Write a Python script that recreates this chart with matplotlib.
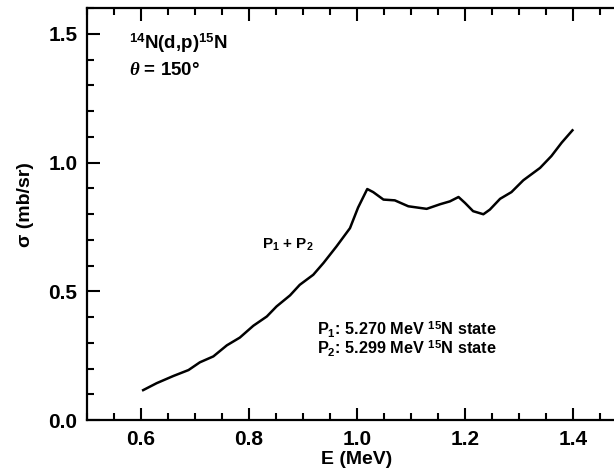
import matplotlib
matplotlib.use("Agg")
import matplotlib.pyplot as plt
from matplotlib.ticker import MultipleLocator

plt.rcParams['font.family'] = ['Liberation Sans', 'DejaVu Sans']
plt.rcParams['font.weight'] = 'bold'
plt.rcParams['mathtext.fontset'] = 'custom'
plt.rcParams['mathtext.rm'] = 'Liberation Sans:bold'
plt.rcParams['mathtext.bf'] = 'Liberation Sans:bold'
plt.rcParams['mathtext.it'] = 'Liberation Serif:italic'

# Excitation function, 14N(d,p)15N, P1+P2 group at 150 degrees
energy_mev = [0.604, 0.629, 0.660, 0.688, 0.709, 0.734, 0.759, 0.783, 0.808,
              0.833, 0.851, 0.876, 0.894, 0.919, 0.938, 0.962, 0.987, 1.002,
              1.019, 1.030, 1.049, 1.070, 1.095, 1.129, 1.154, 1.172, 1.188,
              1.200, 1.215, 1.234, 1.246, 1.265, 1.286, 1.308, 1.339, 1.360,
              1.379, 1.399]
sigma_mb_sr = [0.116, 0.143, 0.171, 0.194, 0.224, 0.247, 0.290, 0.320, 0.366,
               0.402, 0.441, 0.484, 0.525, 0.564, 0.610, 0.674, 0.745, 0.825,
               0.897, 0.885, 0.856, 0.853, 0.830, 0.820, 0.838, 0.849, 0.866,
               0.843, 0.811, 0.799, 0.817, 0.859, 0.885, 0.931, 0.979, 1.025,
               1.077, 1.125]

x_major = [0.6, 0.8, 1.0, 1.2, 1.4]
y_major = [0.0, 0.5, 1.0, 1.5]

fig = plt.figure(figsize=(6.14, 4.72), dpi=100)
ax = fig.add_axes([87 / 614, 52 / 472, 540 / 614, 412 / 472])

ax.plot(energy_mev, sigma_mb_sr, color='black', lw=1.8, solid_joinstyle='round')

ax.set_xlim(0.5, 1.5)
ax.set_ylim(0.0, 1.6)
ax.set_xticks(x_major)
ax.set_yticks(y_major)
ax.set_xticklabels([f"{v:.1f}" for v in x_major])
ax.set_yticklabels([f"{v:.1f}" for v in y_major])
ax.xaxis.set_minor_locator(MultipleLocator(0.05))
ax.yaxis.set_minor_locator(MultipleLocator(0.1))
ax.tick_params(which='both', direction='in', top=True, right=True,
               width=1.5, labelsize=15, pad=7)
ax.tick_params(which='major', length=9)
ax.tick_params(which='minor', length=5)
for s in ax.spines.values():
    s.set_linewidth(1.6)

ax.set_xlabel('E (MeV)', fontsize=14, fontweight='bold', labelpad=2)
ax.set_ylabel('σ (mb/sr)', fontsize=14, fontweight='bold')
ax.yaxis.set_label_coords(-0.098, 0.522)

ax.text(0.578, 1.463, r'$^{14}$N(d,p)$^{15}$N', fontsize=13.5,
        fontweight='bold', va='center', ha='left')
ax.text(0.578, 1.358, r'$\theta$ = 150°', fontsize=13.5,
        fontweight='bold', va='center', ha='left')
ax.text(0.824, 0.681, r'P$_1$ + P$_2$', fontsize=11,
        fontweight='bold', va='center', ha='left')
ax.text(0.926, 0.352, r'P$_1$: 5.270 MeV $^{15}$N state', fontsize=11.7,
        fontweight='bold', va='center', ha='left')
ax.text(0.926, 0.278, r'P$_2$: 5.299 MeV $^{15}$N state', fontsize=11.7,
        fontweight='bold', va='center', ha='left')

fig.savefig('out.png', dpi=100)
